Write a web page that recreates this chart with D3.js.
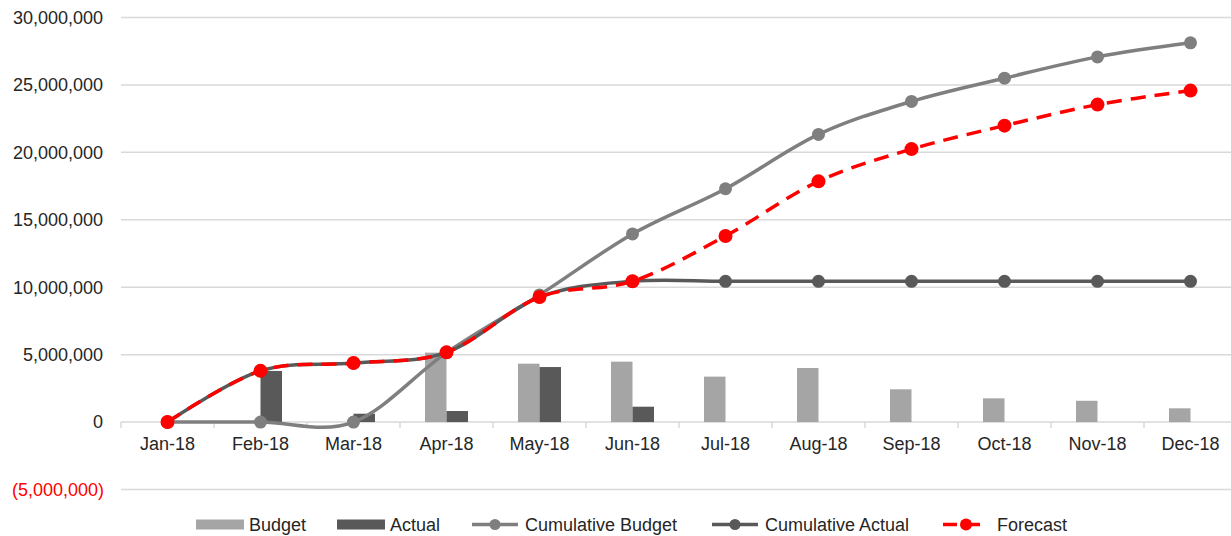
<!DOCTYPE html>
<html>
<head>
<meta charset="utf-8">
<script src="https://cdn.jsdelivr.net/npm/d3@7"></script>
<style>
  body { margin: 0; background: #fff; }
  svg { display: block; font-family: "Liberation Sans", Arial, sans-serif; }
</style>
</head>
<body>
<svg width="1231" height="536"></svg>
<script>
// chart data
var months = ["Jan-18", "Feb-18", "Mar-18", "Apr-18", "May-18", "Jun-18",
              "Jul-18", "Aug-18", "Sep-18", "Oct-18", "Nov-18", "Dec-18"];
var budget = [0, 0, 0, 5150000, 4330000, 4480000, 3370000, 4010000, 2430000, 1760000, 1580000, 1020000];
var actual = [0, 3790000, 620000, 820000, 4080000, 1140000, null, null, null, null, null, null];
var cumBudget = [0, 0, 0, 5150000, 9430000, 13950000, 17300000, 21330000, 23780000, 25500000, 27080000, 28120000];
var cumActual = [0, 3800000, 4380000, 5170000, 9270000, 10440000, 10440000, 10440000, 10440000, 10440000, 10440000, 10440000];
var forecast = [0, 3800000, 4380000, 5170000, 9270000, 10440000, 13800000, 17850000, 20240000, 21980000, 23540000, 24580000];
var yTicks = [-5000000, 0, 5000000, 10000000, 15000000, 20000000, 25000000, 30000000];
var legendItems = ["Budget", "Actual", "Cumulative Budget", "Cumulative Actual", "Forecast"];

function main() {
    var svg = d3.select("svg");

    var x = d3.scaleBand().domain(months).range([121, 1237]);
    var y = d3.scaleLinear().domain([-5000000, 30000000]).range([489.5, 17.5]);
    var bw = 21.5;

    var fmt = d3.format(",");

    // gridlines
    svg.append("g")
        .selectAll("line")
        .data(yTicks)
        .enter().append("line")
        .attr("x1", 121).attr("x2", 1231)
        .attr("y1", function(d) { return y(d); })
        .attr("y2", function(d) { return y(d); })
        .attr("stroke", "#d9d9d9")
        .attr("stroke-width", 1.5);

    // y labels
    svg.append("g")
        .selectAll("text")
        .data(yTicks)
        .enter().append("text")
        .attr("x", function(d) { return d < 0 ? 104 : 103; })
        .attr("y", function(d) { return y(d); })
        .attr("dy", "0.35em")
        .attr("text-anchor", "end")
        .attr("font-size", "18px")
        .attr("fill", function(d) { return d < 0 ? "#ff0000" : "#262626"; })
        .text(function(d) { return d < 0 ? "(" + fmt(-d) + ")" : fmt(d); });

    // x axis on the zero line
    var xAxis = svg.append("g")
        .attr("transform", "translate(0," + y(0) + ")")
        .call(d3.axisBottom(x).tickSize(0).tickPadding(15));
    xAxis.select(".domain").remove();
    xAxis.selectAll("text")
        .attr("font-size", "18px")
        .attr("font-family", "Liberation Sans, Arial, sans-serif")
        .attr("fill", "#262626");

    // small ticks between categories
    svg.append("g")
        .selectAll("line")
        .data(months.concat(["end"]))
        .enter().append("line")
        .attr("x1", function(d, i) { return 121 + i * x.step(); })
        .attr("x2", function(d, i) { return 121 + i * x.step(); })
        .attr("y1", y(0)).attr("y2", y(0) + 6)
        .attr("stroke", "#d9d9d9")
        .attr("stroke-width", 1.5);

    // bars
    svg.append("g")
        .selectAll("rect")
        .data(budget)
        .enter().append("rect")
        .attr("x", function(d, i) { return x(months[i]) + x.bandwidth() / 2 - bw; })
        .attr("y", function(d) { return y(d); })
        .attr("width", bw)
        .attr("height", function(d) { return y(0) - y(d); })
        .attr("fill", "#a5a5a5");

    svg.append("g")
        .selectAll("rect")
        .data(actual)
        .enter().filter(function(d) { return d != null; }).append("rect")
        .attr("x", function(d, i) { return x(months[i]) + x.bandwidth() / 2; })
        .attr("y", function(d) { return y(d); })
        .attr("width", bw)
        .attr("height", function(d) { return y(0) - y(d); })
        .attr("fill", "#595959");

    var cx = function(d, i) { return x(months[i]) + x.bandwidth() / 2; };
    var line = d3.line()
        .x(cx)
        .y(function(d) { return y(d); })
        .curve(d3.curveCatmullRom.alpha(0));

    function series(data, color, dash, r) {
        var g = svg.append("g");
        g.append("path")
            .datum(data)
            .attr("fill", "none")
            .attr("stroke", color)
            .attr("stroke-width", 3.5)
            .attr("stroke-dasharray", dash)
            .attr("d", line);
        g.selectAll("circle")
            .data(data)
            .enter().append("circle")
            .attr("cx", cx)
            .attr("cy", function(d) { return y(d); })
            .attr("r", r)
            .attr("fill", color);
    }

    series(cumBudget, "#7f7f7f", null, 6.5);
    series(cumActual, "#595959", null, 6.5);
    series(forecast, "#ff0000", "15,9", 7);

    // legend
    var ly = 524.5;
    var lg = svg.append("g").attr("font-size", "18px").attr("fill", "#262626");
    var legendX = [196, 337, 472, 712, 943];
    var textX = [249, 390, 525, 765, 997];
    var colors = ["#a5a5a5", "#595959", "#7f7f7f", "#595959", "#ff0000"];
    legendItems.forEach(function(name, i) {
        if (i < 2) {
            lg.append("rect")
                .attr("x", legendX[i]).attr("y", ly - 5)
                .attr("width", 48).attr("height", 10)
                .attr("fill", colors[i]);
        } else {
            lg.append("line")
                .attr("x1", legendX[i]).attr("x2", legendX[i] + 46)
                .attr("y1", ly).attr("y2", ly)
                .attr("stroke", colors[i]).attr("stroke-width", 3.5)
                .attr("stroke-dasharray", i == 4 ? "14,9" : null);
            lg.append("circle")
                .attr("cx", legendX[i] + 23).attr("cy", ly)
                .attr("r", i == 4 ? 6 : 5.5)
                .attr("fill", colors[i]);
        }
        lg.append("text")
            .attr("x", textX[i]).attr("y", ly)
            .attr("dy", "0.35em")
            .text(name);
    });
}
main();
</script>
</body>
</html>
